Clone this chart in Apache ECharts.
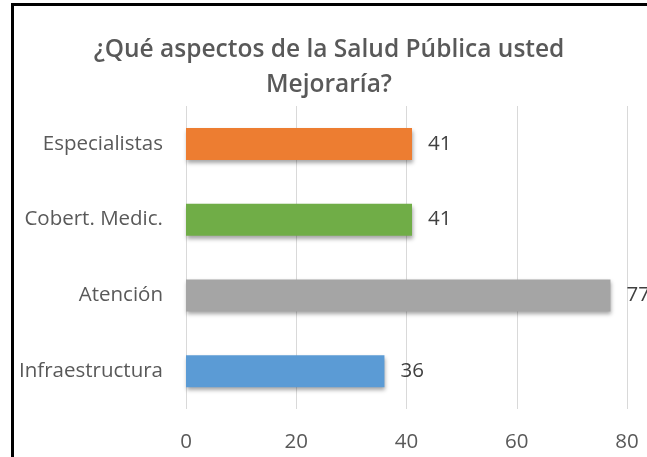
<!DOCTYPE html>
<html>
<head>
<meta charset="utf-8">
<script src="https://cdn.jsdelivr.net/npm/echarts@6/dist/echarts.min.js"></script>
<style>
  html, body { margin: 0; padding: 0; background: #fff; overflow: hidden; }
  #chartArea { width: 700px; height: 457px; }
</style>
</head>
<body>
<div id="chartArea"></div>
<script>
// data, bottom to top as the axis draws it
var categories = ['Infraestructura', 'Atención', 'Cobert. Medic.', 'Especialistas'];
var values = [36, 77, 41, 41];
var barColors = ['#5B9BD5', '#A5A5A5', '#70AD47', '#ED7D31'];
var xTicks = [0, 20, 40, 60, 80];

var chartDom = document.getElementById('chartArea');
var myChart = echarts.init(chartDom);
var option;

option = {
    animation: false,
    title: {
        text: '¿Qué aspectos de la Salud Pública usted\nMejoraría?',
        left: 324,
        textAlign: 'center',
        top: 28,
        textStyle: {
            fontFamily: 'Open Sans',
            fontSize: 24.5,
            fontWeight: 600,
            color: '#595959',
            lineHeight: 35
        }
    },
    graphic: [
        { type: 'line', shape: { x1: 12.5, y1: 3, x2: 12.5, y2: 457 }, style: { stroke: '#000', lineWidth: 3 } },
        { type: 'line', shape: { x1: 11, y1: 4.5, x2: 700, y2: 4.5 }, style: { stroke: '#000', lineWidth: 3 } }
    ],
    grid: {
        left: 186,
        right: 73,
        top: 106,
        bottom: 48
    },
    xAxis: {
        type: 'value',
        min: xTicks[0],
        max: xTicks[xTicks.length - 1],
        interval: 20,
        axisLine: { show: false },
        axisTick: { show: false },
        splitLine: { lineStyle: { color: '#D9D9D9', width: 1 } },
        axisLabel: {
            margin: 23,
            fontFamily: 'Open Sans',
            fontSize: 20.5,
            color: '#595959'
        }
    },
    yAxis: {
        type: 'category',
        data: categories,
        axisLine: { show: false },
        axisTick: { show: false },
        axisLabel: {
            margin: 23,
            fontFamily: 'Open Sans',
            fontSize: 20.5,
            color: '#595959'
        }
    },
    series: [{
        type: 'bar',
        barWidth: 32,
        data: values.map(function (v, i) {
            return { value: v, itemStyle: { color: barColors[i] } };
        }),
        itemStyle: {
            shadowColor: 'rgba(0,0,0,0.35)',
            shadowBlur: 4,
            shadowOffsetX: 1,
            shadowOffsetY: 3
        },
        label: {
            show: true,
            position: 'right',
            distance: 16,
            fontFamily: 'Open Sans',
            fontSize: 20.5,
            color: '#404040'
        }
    }]
};

option && myChart.setOption(option);
</script>
</body>
</html>
